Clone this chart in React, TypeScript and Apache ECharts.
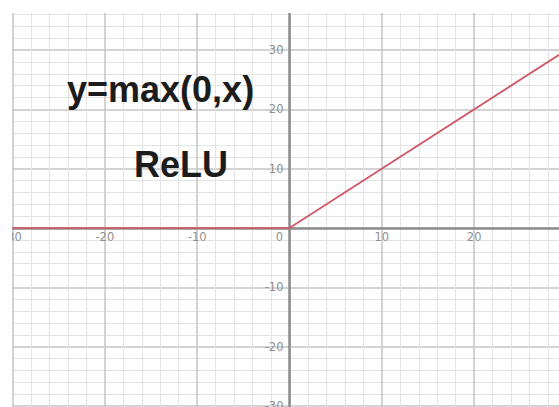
import React, { useEffect, useRef } from "react";
import * as echarts from "echarts";

// ReLU: y = max(0, x), sampled at its break points
const xValues = [-30, 0, 30];
const yValues = [0, 0, 30];

const xAxisRange = [-30, 30];
const yAxisRange = [-40, 40];
const majorStep = 10;
const minorDivisions = 5;

const formula = "y=max(0,x)";
const caption = "ReLU";

// plot box inside the chart element
const GRID_LEFT = 0.5;
const GRID_TOP = 10.7;
const GRID_W = 554;
const GRID_H = 474.7;

export default function App() {
  const ref = useRef<HTMLDivElement>(null);

  useEffect(() => {
    if (!ref.current) return;
    const chart = echarts.init(ref.current, null, { renderer: "svg" });

    // move both axes onto the origin
    const xZeroOffset =
      -GRID_H * ((0 - yAxisRange[0]) / (yAxisRange[1] - yAxisRange[0]));
    const yZeroOffset =
      -GRID_W * ((0 - xAxisRange[0]) / (xAxisRange[1] - xAxisRange[0]));

    const labelStyle = {
      fontSize: 11.5,
      color: "#8f8f8f",
      fontFamily: "DejaVu Sans",
    };
    const majorLine = { show: true, lineStyle: { color: "#c4c4c4", width: 1.5 } };
    const minorLine = { show: true, lineStyle: { color: "#e3e3e3", width: 1 } };
    const axisLine = { show: true, onZero: false, lineStyle: { color: "#8c8c8c", width: 2.5 } };

    chart.setOption({
      animation: false,
      backgroundColor: "#ffffff",
      grid: {
        left: GRID_LEFT,
        top: GRID_TOP,
        width: GRID_W,
        height: GRID_H,
        containLabel: false,
        outerBoundsMode: "none",
      },
      xAxis: {
        type: "value",
        position: "bottom",
        offset: xZeroOffset,
        min: xAxisRange[0],
        max: xAxisRange[1],
        interval: majorStep,
        axisLine,
        axisTick: { show: false },
        axisLabel: {
          ...labelStyle,
          margin: 3,
          formatter: (v: number) => (v === 0 ? "{o|0}" : String(v)),
          rich: { o: { ...labelStyle, padding: [0, 20, 0, 0] } },
        },
        splitLine: majorLine,
        minorTick: { show: false, splitNumber: minorDivisions },
        minorSplitLine: minorLine,
      },
      yAxis: {
        type: "value",
        position: "left",
        offset: yZeroOffset,
        min: yAxisRange[0],
        max: yAxisRange[1],
        interval: majorStep,
        axisLine,
        axisTick: { show: false },
        axisLabel: {
          ...labelStyle,
          margin: 6,
          // the origin is labelled once, on the x axis; ±40 fall outside the frame
          formatter: (v: number) =>
            v === 0 || Math.abs(v) === 40 ? "" : String(v),
        },
        splitLine: majorLine,
        minorTick: { show: false, splitNumber: minorDivisions },
        minorSplitLine: minorLine,
      },
      series: [
        {
          type: "line",
          data: xValues.map((x, i) => [x, yValues[i]]),
          showSymbol: false,
          symbol: "none",
          lineStyle: { color: "#cf5a67", width: 1.8 },
          z: 5,
        },
      ],
      graphic: [
        {
          type: "text",
          x: 55,
          y: 109,
          z: 10,
          style: {
            text: formula,
            font: "bold 36px 'Liberation Sans', Arial, sans-serif",
            fill: "#1c1c1c",
            textAlign: "left",
            textVerticalAlign: "middle",
          },
        },
        {
          type: "text",
          x: 122,
          y: 184,
          z: 10,
          style: {
            text: caption,
            font: "bold 36px 'Liberation Sans', Arial, sans-serif",
            fill: "#1c1c1c",
            textAlign: "left",
            textVerticalAlign: "middle",
          },
        },
      ],
    });

    return () => chart.dispose();
  }, []);

  return (
    <div
      style={{
        position: "fixed",
        left: 12,
        top: 13,
        width: 547,
        height: 394,
        overflow: "hidden",
        background: "#ffffff",
      }}
    >
      <div
        ref={ref}
        style={{ position: "absolute", left: 0, top: -33, width: 600, height: 520 }}
      />
    </div>
  );
}
